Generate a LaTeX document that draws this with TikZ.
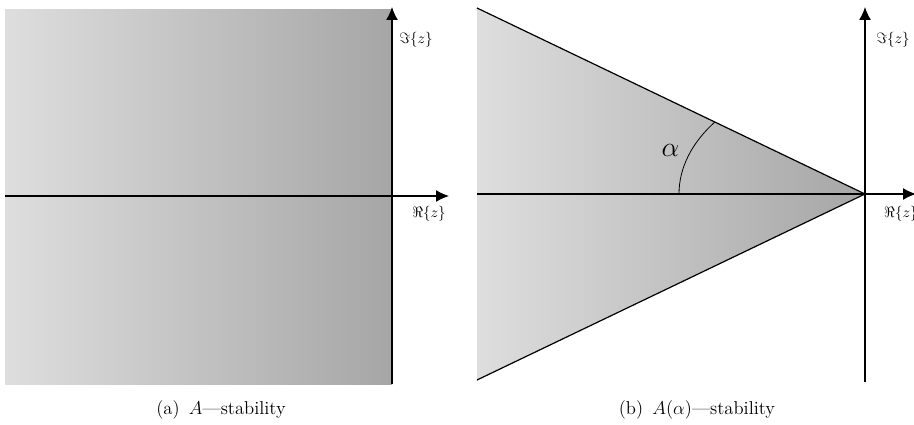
\documentclass[tikz,border=0pt]{standalone}
\usetikzlibrary{arrows.meta}
\begin{document}
\begin{tikzpicture}[x=1pt,y=-1pt,
  axis/.style={line width=1.3pt,-{Latex[length=13pt,width=12pt]}},
  edge/.style={line width=1.2pt},
  region/.style={left color=black!13,right color=black!35},
  axlabel/.style={inner sep=0pt},
  caption/.style={inner sep=0pt}]
\useasboundingbox (0,0) rectangle (914,425);
% ---- panel (a)
\coordinate (aTL) at (5,10);
\coordinate (aBR) at (392,384);
\coordinate (aW) at (5,196);
\coordinate (aE) at (449,196);
\coordinate (aS) at (392,384);
\coordinate (aN) at (392,7);
\shade[region] (aTL) rectangle (aBR);
\draw[axis] (aW) -- (aE);
\draw[axis] (aS) -- (aN);
\node[axlabel] (aIm) at (416,40) {\scalebox{1.5}{$\Im\{z\}$}};
\node[axlabel] (aRe) at (429,214) {\scalebox{1.5}{$\Re\{z\}$}};
\node[caption] (capa) at (221,410) {\scalebox{1.55}{\large (a)\enspace $A$---stability}};
% ---- panel (b)
\coordinate (bTL) at (477,8);
\coordinate (bBL) at (477,380);
\coordinate (bO) at (865,194);
\coordinate (bW) at (477,194);
\coordinate (bE) at (916,194);
\coordinate (bS) at (865,382);
\coordinate (bN) at (865,7);
\shade[region] (bTL) -- (bO) -- (bBL) -- cycle;
\draw[edge] (bTL) -- (bO) -- (bBL);
\draw[axis] (bW) -- (bE);
\draw[axis] (bS) -- (bN);
\coordinate (arcStart) at (679,194);
\draw[line width=0.8pt] (arcStart) arc[start angle=180,end angle=216.2,x radius=186,y radius=122];
\node[inner sep=0pt] (alpha) at (670.5,150) {\scalebox{1.125}{\Huge $\alpha$}};
\node[axlabel] (bIm) at (893,40) {\scalebox{1.5}{$\Im\{z\}$}};
\node[axlabel,anchor=west] (bRe) at (884,214) {\scalebox{1.5}{$\Re\{z\}$}};
\node[caption] (capb) at (697,410) {\scalebox{1.55}{\large (b)\enspace $A(\alpha)$---stability}};
\end{tikzpicture}
\end{document}
